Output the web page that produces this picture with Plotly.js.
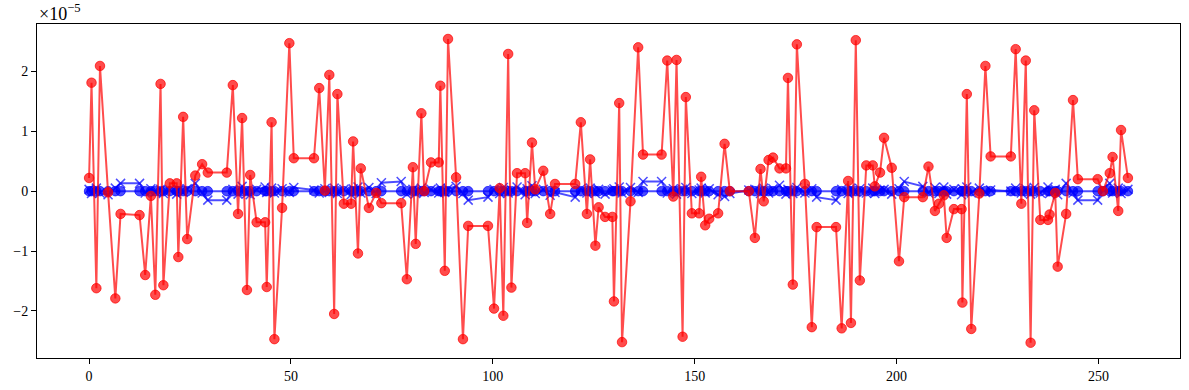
<!DOCTYPE html>
<html>
<head>
<meta charset="utf-8">
<script src="https://cdn.plot.ly/plotly-3.0.1.min.js"></script>
<style>html,body{margin:0;padding:0;background:#fff;}#chart{width:1189px;height:390px;}</style>
</head>
<body>
<div id="chart"></div>
<script>
// x positions (shared by all series)
const xValues = [0,0.6,1.8,2.7,4.7,6.5,7.8,12.5,13.9,15.3,16.4,17.7,18.4,20.0,21.7,22.1,23.3,24.3,26.3,28.0,
29.4,34.1,35.6,36.9,37.9,39.1,39.9,41.5,43.6,44.0,45.2,45.9,47.8,49.6,50.7,55.7,57.0,58.4,59.5,60.7,
61.5,63.1,64.9,65.4,66.6,67.3,69.3,71.1,72.4,77.3,78.7,80.2,80.9,82.3,83.0,84.7,86.6,87.0,88.1,88.9,
90.9,92.6,93.9,98.8,100.3,101.7,102.6,103.8,104.6,106.0,108.0,108.5,109.7,110.5,112.5,114.2,115.4,120.4,121.8,123.3,
124.1,125.4,126.2,127.8,129.6,130.0,131.3,132.0,134.1,136.0,137.2,141.8,143.2,144.7,145.5,147.0,147.8,149.3,151.1,151.6,
152.6,153.6,155.8,157.4,158.7,163.4,164.9,166.3,167.1,168.3,169.4,171.0,172.6,173.1,174.3,175.3,177.3,179.0,180.2,185.0,
186.4,188.0,188.7,189.9,190.9,192.5,194.1,194.6,195.9,196.9,198.8,200.6,201.9,206.5,207.9,209.5,210.5,211.7,212.4,214.2,
216.1,216.3,217.4,218.5,220.5,222.0,223.3,228.3,229.5,230.9,232.0,233.2,234.1,235.6,237.5,237.9,239.3,239.9,242.0,243.7,
244.9,249.8,251.1,252.8,253.5,254.9,255.6,257.3];

// red series (units of 1e-5)
const redValues = [0.22,1.81,-1.62,2.09,-0.02,-1.79,-0.38,-0.40,-1.40,-0.08,-1.73,1.79,-1.57,0.13,0.13,-1.10,1.24,-0.80,0.26,0.45,
0.31,0.31,1.77,-0.38,1.22,-1.65,0.27,-0.52,-0.52,-1.60,1.15,-2.47,-0.28,2.47,0.55,0.55,1.72,0.01,1.94,-2.05,
1.62,-0.21,-0.21,0.83,-1.04,0.38,-0.28,-0.03,-0.20,-0.20,-1.47,0.40,-0.88,1.30,0.00,0.48,0.48,1.76,-1.33,2.54,
0.23,-2.47,-0.58,-0.58,-1.96,0.05,-2.08,2.29,-1.61,0.30,0.30,-0.53,0.81,0.03,0.34,-0.38,0.12,0.12,1.15,-0.38,
0.53,-0.91,-0.27,-0.43,-0.43,-1.84,1.47,-2.52,-0.17,2.40,0.61,0.61,2.18,-0.09,2.19,-2.43,1.57,-0.37,-0.37,0.24,
-0.57,-0.46,-0.37,0.79,0.00,0.00,-0.78,0.37,-0.17,0.52,0.56,0.38,0.38,1.89,-1.56,2.45,0.12,-2.27,-0.60,-0.60,
-2.29,0.17,-2.20,2.52,-1.49,0.43,0.43,0.08,0.31,0.89,0.39,-1.17,-0.10,-0.10,0.41,-0.33,-0.21,-0.07,-0.78,-0.30,
-0.30,-1.86,1.62,-2.30,-0.04,2.09,0.58,0.58,2.37,-0.21,2.18,-2.53,1.35,-0.48,-0.48,-0.39,-0.03,-1.26,-0.38,1.52,
0.20,0.20,0.00,0.30,0.57,-0.33,1.02,0.22];

// blue cross series (units of 1e-5)
const blueCrossValues = [0.03,-0.04,0.05,-0.03,-0.06,0.05,0.13,0.13,-0.03,0.04,-0.02,0.03,-0.04,0.02,-0.05,0.03,-0.02,0.04,0.13,-0.03,
-0.15,-0.15,0.03,-0.05,0.08,-0.04,-0.06,0.03,0.07,-0.02,0.05,-0.03,0.04,-0.02,0.06,0.02,-0.03,0.04,-0.02,0.05,
-0.04,0.03,-0.06,0.04,0.07,-0.03,0.06,-0.04,0.14,0.16,-0.05,0.03,-0.04,0.05,-0.02,0.03,-0.03,0.05,-0.02,0.04,
0.08,-0.04,-0.15,-0.10,0.03,-0.04,0.06,-0.03,0.02,0.07,-0.06,0.04,0.09,-0.04,0.03,-0.07,-0.02,-0.10,0.04,-0.03,
0.05,-0.04,0.03,-0.05,0.02,0.04,0.07,-0.03,0.06,-0.02,0.16,0.16,-0.03,0.04,-0.05,0.03,0.06,-0.04,0.02,0.05,
-0.03,0.04,-0.06,-0.09,-0.04,0.02,0.03,-0.04,0.05,-0.03,0.04,0.10,-0.05,0.03,-0.04,0.06,-0.03,0.04,-0.10,-0.15,
0.03,-0.04,0.05,-0.02,0.04,-0.03,0.05,-0.04,0.02,0.03,-0.05,0.04,0.16,0.08,-0.03,0.06,-0.04,0.07,-0.05,0.03,
-0.06,0.04,0.07,-0.03,0.05,-0.02,0.02,0.00,0.05,-0.03,0.04,-0.05,0.06,-0.03,0.07,-0.04,0.03,-0.06,0.13,-0.03,
-0.15,-0.15,0.04,0.13,-0.03,0.05,-0.04,0.03];

// blue circle series (units of 1e-5)
const blueCircleValues = [0,0,0,0,0,0,0,0,0,0,0,0,0,0,0,0,0,0,0,0,
0,0,0,0,0,0,0,0,0,0,0,0,0,0,0,0,0,0,0,0,
0,0,0,0,0,0,0,0,0,0,0,0,0,0,0,0,0,0,0,0,
0,0,0,0,0,0,0,0,0,0,0,0,0,0,0,0,0,0,0,0,
0,0,0,0,0,0,0,0,0,0,0,0,0,0,0,0,0,0,0,0,
0,0,0,0,0,0,0,0,0,0,0,0,0,0,0,0,0,0,0,0,
0,0,0,0,0,0,0,0,0,0,0,0,0,0,0,0,0,0,0,0,
0,0,0,0,0,0,0,0,0,0,0,0,0,0,0,0,0,0,0,0,
0,0,0,0,0,0,0,0];

const xTicks = [0,50,100,150,200,250];
const yTicks = [-2,-1,0,1,2];

const traces = [
  {x:xValues, y:blueCircleValues, type:'scatter', mode:'lines+markers',
   line:{color:'rgba(0,0,255,0.7)', width:2},
   marker:{symbol:'circle', size:9.5, color:'rgba(0,0,255,0.7)', line:{color:'rgba(0,0,255,0.7)', width:1}}},
  {x:xValues, y:blueCrossValues, type:'scatter', mode:'lines+markers',
   line:{color:'rgba(0,0,255,0.7)', width:2},
   marker:{symbol:'x-thin-open', size:9, color:'rgba(0,0,255,0.7)', line:{color:'rgba(0,0,255,0.7)', width:1.5}}},
  {x:xValues, y:redValues, type:'scatter', mode:'lines+markers',
   line:{color:'rgba(255,0,0,0.7)', width:2},
   marker:{symbol:'circle', size:9.5, color:'rgba(255,0,0,0.7)', line:{color:'rgba(255,0,0,0.7)', width:1}}}
];

const fontFam = 'Liberation Serif, DejaVu Serif, serif';
const layout = {
  width:1189, height:390,
  margin:{l:37, r:9, t:24, b:32},
  paper_bgcolor:'#fff', plot_bgcolor:'#fff',
  showlegend:false,
  font:{family:fontFam, size:14, color:'#000'},
  xaxis:{range:[-12.9,270.2], tickvals:xTicks, ticktext:xTicks.map(String),
    showgrid:false, zeroline:false, showline:true, mirror:true, linecolor:'#000', linewidth:1,
    ticks:'outside', ticklen:5, tickwidth:1, tickcolor:'#000', tickfont:{family:fontFam, size:14}},
  yaxis:{range:[-2.785,2.79], tickvals:yTicks, ticktext:yTicks.map(v=>v<0?'\u2212'+Math.abs(v):String(v)),
    showgrid:false, zeroline:false, showline:true, mirror:true, linecolor:'#000', linewidth:1,
    ticks:'outside', ticklen:5, tickwidth:1, tickcolor:'#000', tickfont:{family:fontFam, size:14}},
  annotations:[{xref:'paper', yref:'paper', x:0, y:1, xanchor:'left', yanchor:'bottom', yshift:-2,
    showarrow:false, text:'\u00d710<sup>\u22125</sup>', font:{family:fontFam, size:18, color:'#000'}}]
};
Plotly.newPlot('chart', traces, layout, {displayModeBar:false, staticPlot:true});
</script>
</body>
</html>
